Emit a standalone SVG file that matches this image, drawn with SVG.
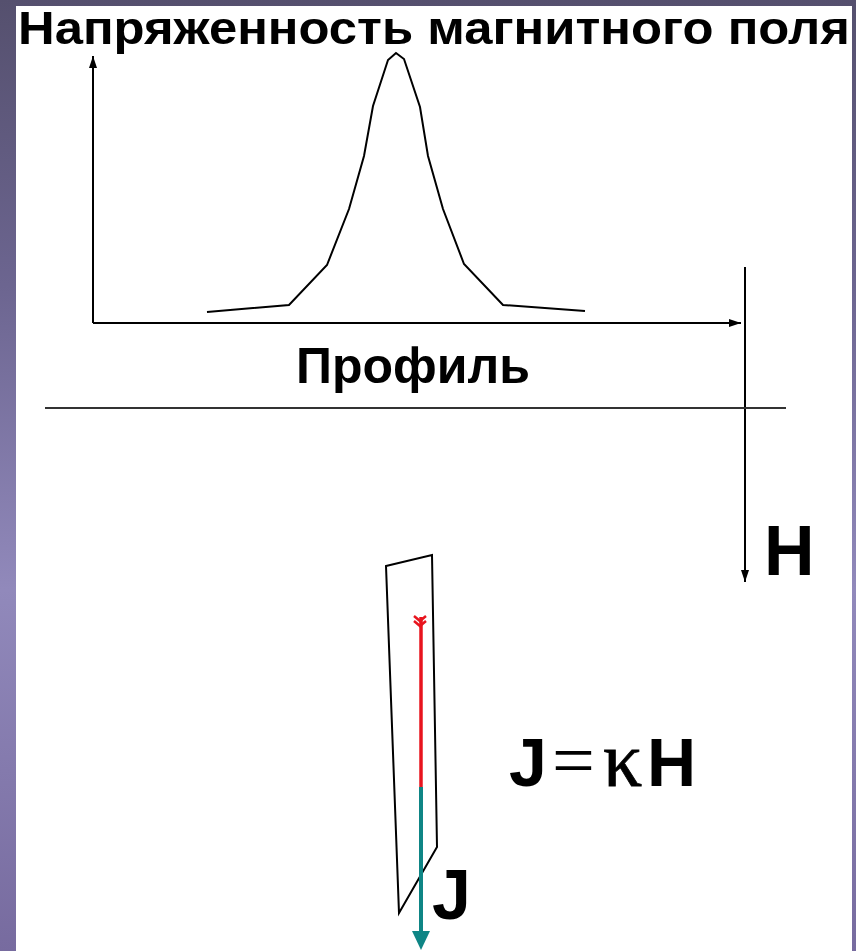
<svg xmlns="http://www.w3.org/2000/svg" width="856" height="951" viewBox="0 0 856 951">
<defs>
<linearGradient id="bg" x1="0" y1="0" x2="0" y2="1">
<stop offset="0" stop-color="#55506e"/>
<stop offset="0.3" stop-color="#6c6590"/>
<stop offset="0.62" stop-color="#9189bb"/>
<stop offset="1" stop-color="#776b9f"/>
</linearGradient>
<marker id="ah" markerUnits="userSpaceOnUse" markerWidth="12" markerHeight="8" refX="12" refY="4" orient="auto">
<path d="M0,0 L12,4 L0,8 z" fill="#000"/>
</marker>
<style>
.ln{stroke:#000;stroke-width:2;fill:none}
.bt{font-family:"Liberation Sans",Arial,sans-serif;font-weight:bold;fill:#000}
.sf{font-family:"Liberation Serif","Times New Roman",serif;fill:#000}
</style>
</defs>
<rect x="0" y="0" width="856" height="951" fill="url(#bg)"/>
<rect x="16" y="6" width="836" height="945" fill="#fff"/>

<g id="title"><text class="bt" x="18" y="44" font-size="47" textLength="832" lengthAdjust="spacingAndGlyphs">Напряженность магнитного поля</text></g>

<g id="connectors">
<line class="ln" x1="93" y1="323" x2="93" y2="56" marker-end="url(#ah)"/>
<line class="ln" x1="93" y1="323" x2="741" y2="323" marker-end="url(#ah)"/>
<line class="ln" x1="745" y1="267" x2="745" y2="582" marker-end="url(#ah)"/>
<line x1="45" y1="408" x2="786" y2="408" stroke="#333" stroke-width="2"/>
</g>

<g id="curve"><polyline class="ln" points="207,312 289,305 327,265 349,209 364,156 373,106 388,60 396,53 404,59 420,107 428,156 443,209 464,264 503,305 585,311"/></g>

<g id="profile-label"><text class="bt" x="296" y="383" font-size="50">Профиль</text></g>

<g id="h-label"><text class="bt" x="764" y="575" font-size="70">H</text></g>

<g id="plate"><polygon points="386,566 432,555 437,847 399,913" fill="none" stroke="#000" stroke-width="2"/></g>

<g id="red-arrow">
<line x1="421" y1="617" x2="421" y2="787" stroke="#e8141e" stroke-width="3.5"/>
<polyline points="414,616 420,621 426,616" fill="none" stroke="#e8141e" stroke-width="2.5"/>
<polyline points="414,621 420,626 426,621" fill="none" stroke="#e8141e" stroke-width="2.5"/>
</g>

<g id="j-arrow">
<line x1="421" y1="787" x2="421" y2="934" stroke="#0e8585" stroke-width="4"/>
<polygon points="412,931 430,931 421,950" fill="#0e8585"/>
</g>

<g id="j-label"><text class="bt" x="432" y="919" font-size="70">J</text></g>

<g id="formula">
<text class="bt" x="509" y="786" font-size="68">J</text>
<text class="sf" x="552" y="786" font-size="76">=</text>
<text class="sf" x="603" y="786" font-size="78" stroke="#000" stroke-width="0.8">κ</text>
<text class="bt" x="647" y="786" font-size="68">H</text>
</g>
</svg>
